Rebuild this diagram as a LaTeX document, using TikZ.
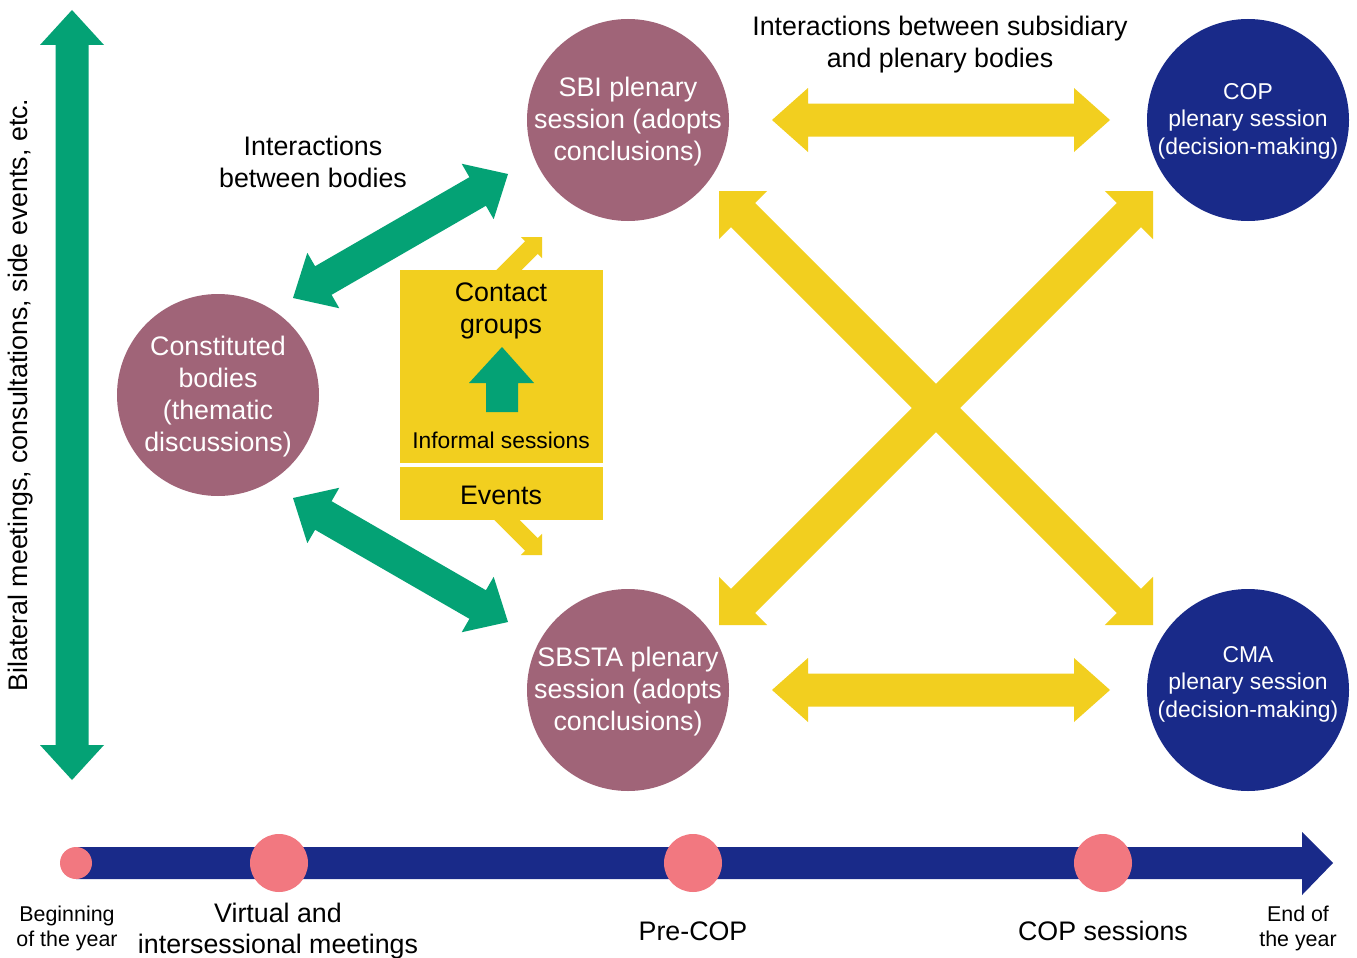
\documentclass[tikz,border=0pt]{standalone}
\usepackage{fontspec}
\setmainfont{Liberation Sans}
\usetikzlibrary{calc}
\definecolor{cgreen}{RGB}{4,162,117}
\definecolor{cyellow}{RGB}{242,207,31}
\definecolor{cmauve}{RGB}{160,100,120}
\definecolor{cnavy}{RGB}{25,42,137}
\definecolor{cpink}{RGB}{242,120,128}
% double block arrow: #1 A, #2 B, #3 shaft half, #4 head half, #5 head length, #6 colour
\newcommand{\dblockarrow}[6]{%
  \path ($(#1)!#5!(#2)$) coordinate (baP) ($(#2)!#5!(#1)$) coordinate (baQ);
  \fill[#6] (#1) -- ($(baP)!#4!90:(#2)$) -- ($(baP)!#3!90:(#2)$) -- ($(baQ)!#3!-90:(#1)$) -- ($(baQ)!#4!-90:(#1)$) -- (#2) -- ($(baQ)!#4!90:(#1)$) -- ($(baQ)!#3!90:(#1)$) -- ($(baP)!#3!-90:(#2)$) -- ($(baP)!#4!-90:(#2)$) -- cycle;}
% single block arrow: tail #1, tip #2
\newcommand{\sblockarrow}[6]{%
  \path ($(#2)!#5!(#1)$) coordinate (baQ);
  \fill[#6] ($(#1)!#3!90:(#2)$) -- ($(baQ)!#3!-90:(#1)$) -- ($(baQ)!#4!-90:(#1)$) -- (#2) -- ($(baQ)!#4!90:(#1)$) -- ($(baQ)!#3!90:(#1)$) -- ($(#1)!#3!-90:(#2)$) -- cycle;}
\tikzset{
  lbl/.style={font=\fontsize{26.8}{32}\selectfont, align=center, inner sep=0pt},
  ctext/.style={lbl, text=white},
  smalltext/.style={font=\fontsize{22.9}{27.5}\selectfont, align=center, inner sep=0pt},
  tinytext/.style={font=\fontsize{21.4}{25}\selectfont, align=center, inner sep=0pt},
  bubble/.style={circle, fill=#1, minimum size=202pt, inner sep=0pt},
  dot/.style={circle, fill=cpink, minimum size=#1, inner sep=0pt},
}
\begin{document}
\begin{tikzpicture}[x=1pt,y=-1pt]
\useasboundingbox (0,0) rectangle (1357,958);
\fill[white] (0,0) rectangle (1357,958);

% vertical green arrow
\coordinate (vtop) at (72,10);
\coordinate (vbot) at (72,780);
\dblockarrow{vtop}{vbot}{16.5pt}{32pt}{35pt}{cgreen}
\node[lbl, rotate=90] (bilat) at (21,395) {Bilateral meetings, consultations, side events, etc.};

% circles
\node[bubble=cmauve] (sbi) at (628,120) {};
\node[bubble=cmauve] (sbsta) at (628,690) {};
\node[bubble=cmauve] (const) at (218,395) {};
\node[bubble=cnavy] (cop) at (1248,120) {};
\node[bubble=cnavy] (cma) at (1248,690) {};
\node[ctext] at ($(sbi)+(0,2)$) {SBI plenary\\session (adopts\\conclusions)};
\node[ctext] at ($(sbsta)+(0,2)$) {SBSTA plenary\\session (adopts\\conclusions)};
\node[ctext] at ($(const)+(0,2)$) {Constituted\\bodies\\(thematic\\discussions)};
\node[smalltext, text=white] at ($(cop)+(0,1)$) {COP\\plenary session\\(decision-making)};
\node[smalltext, text=white] at ($(cma)+(0,-6)$) {CMA\\plenary session\\(decision-making)};

% yellow horizontal arrows
\coordinate (h1a) at (772,120); \coordinate (h1b) at (1110,120);
\coordinate (h2a) at (772,690); \coordinate (h2b) at (1110,690);
\dblockarrow{h1a}{h1b}{16.5pt}{32pt}{36pt}{cyellow}
\dblockarrow{h2a}{h2b}{16.5pt}{32pt}{36pt}{cyellow}
\node[lbl] (subpl) at (940,45) {Interactions between subsidiary\\and plenary bodies};

% yellow X arrows
\coordinate (xa) at (719,191); \coordinate (xb) at (1153,625);
\coordinate (xc) at (719,625); \coordinate (xd) at (1153,191);
\dblockarrow{xa}{xb}{17pt}{34pt}{34pt}{cyellow}
\dblockarrow{xc}{xd}{17pt}{34pt}{34pt}{cyellow}

% green diagonal arrows
\coordinate (g1a) at (293,298); \coordinate (g1b) at (508,174);
\coordinate (g2a) at (293,498); \coordinate (g2b) at (508,622);
\dblockarrow{g1a}{g1b}{16.5pt}{32pt}{35pt}{cgreen}
\dblockarrow{g2a}{g2b}{16.5pt}{32pt}{35pt}{cgreen}
\node[lbl] (betw) at (313,162) {Interactions\\between bodies};

% small yellow arrows from the box
\coordinate (s1a) at (490,289); \coordinate (s1b) at (542,237);
\coordinate (s2a) at (490,503); \coordinate (s2b) at (542,555);
\sblockarrow{s1a}{s1b}{9pt}{15pt}{15pt}{cyellow}
\sblockarrow{s2a}{s2b}{9pt}{15pt}{15pt}{cyellow}

% contact group box
\fill[cyellow] (400,270) rectangle (603,520);
\fill[white] (400,463) rectangle (603,467);
\node[lbl] (contact) at (501,311) {Contact\\groups};
\fill[cgreen] (502,347) -- (534,383) -- (518,383) -- (518,412) -- (486,412) -- (486,383) -- (469,383) -- cycle;
\node[font=\fontsize{22.8}{26}\selectfont, inner sep=0pt] (informal) at (501,440) {Informal sessions};
\node[lbl] (events) at (501,495) {Events};

% timeline
\coordinate (tstart) at (76,863);
\coordinate (tend) at (1333,863);
\fill[cnavy] ($(tstart)+(0,-16)$) -- ($(tend)+(-31,-16)$) -- ($(tend)+(-31,-31)$) -- (tend) -- ($(tend)+(-31,32)$) -- ($(tend)+(-31,16)$) -- ($(tstart)+(0,16)$) -- cycle;
\node[dot=32pt] (d0) at (tstart) {};
\node[dot=58pt] (d1) at (279,863) {};
\node[dot=58pt] (d2) at (693,863) {};
\node[dot=58pt] (d3) at (1103,863) {};
\node[tinytext] (l0) at (67,928) {Beginning\\of the year};
\node[lbl, font=\fontsize{26.8}{31}\selectfont] (l1) at (278,931) {Virtual and\\intersessional meetings};
\node[lbl] (l2) at (693,931) {Pre-COP};
\node[lbl] (l3) at (1103,931) {COP sessions};
\node[tinytext] (l4) at (1298,928) {End of\\the year};
\end{tikzpicture}
\end{document}
